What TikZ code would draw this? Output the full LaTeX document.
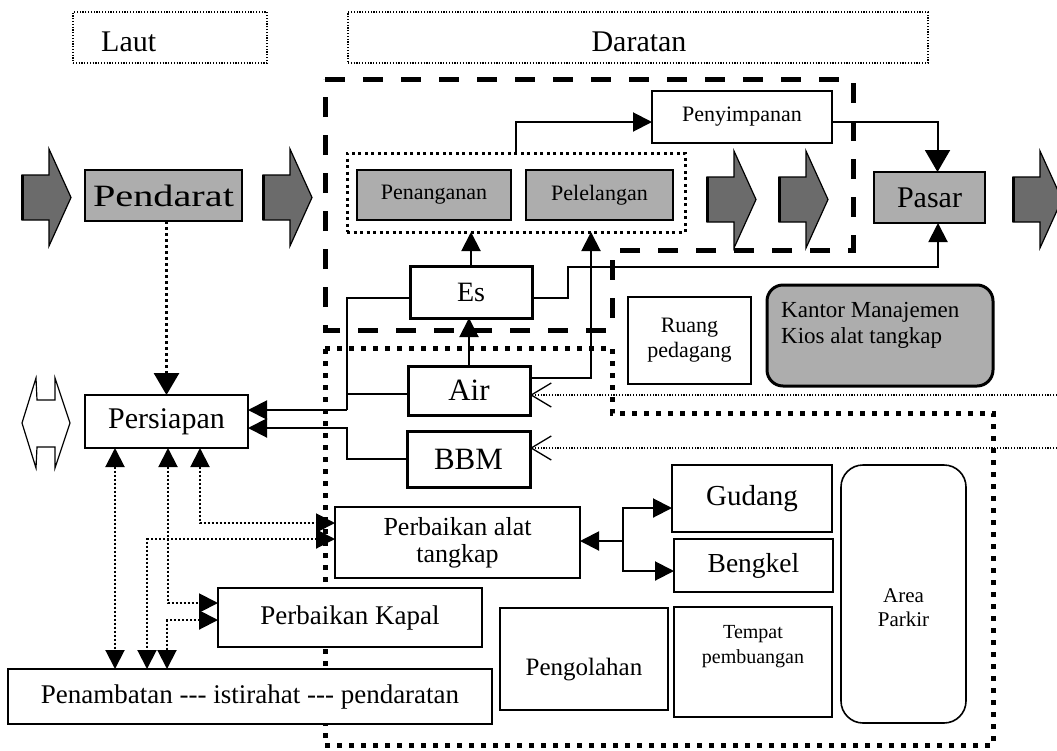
\documentclass[tikz,border=0pt]{standalone}
\usepackage{fontspec}
\setmainfont{Liberation Serif}
\usepackage{graphicx}
\usetikzlibrary{arrows.meta}
\newcommand\fsz[2]{\fontsize{#1}{#2}\selectfont}

\tikzset{
  bt/.tip={Triangle[length=19pt,width=19pt]},
  btl/.tip={Triangle[length=22pt,width=25pt]},
  ob/.tip={Straight Barb[length=20pt,width=24pt,line width=1.3pt]},
  barrow/.pic={
    \filldraw[fill=black!58,line width=1.2pt,line join=miter]
      (0,-22.5) -- (27,-22.5) -- (27,-48.5) -- (49,0) -- (27,48.5) -- (27,22.5) -- (0,22.5) -- cycle;
    \draw[line width=3pt] (0,-22.5) -- (0,22.5);
  }
}

\begin{document}
\begin{tikzpicture}[x=1pt,y=-1pt,
  box/.style={draw,line width=2pt,fill=white,inner sep=0pt,outer sep=0pt,align=center},
  gbox/.style={box,fill=black!32},
  thickbox/.style={box,line width=3pt},
  conn/.style={line width=2pt},
  dconn/.style={line width=2pt,dash pattern=on 2pt off 2pt},
  pconn/.style={line width=3pt,dash pattern=on 3pt off 3pt},
  feed/.style={line width=1.2pt,dash pattern=on 1.2pt off 1.6pt},
  dashreg/.style={line width=5pt,dash pattern=on 20pt off 18pt,line join=miter},
  dotreg/.style={line width=5pt,dash pattern=on 5pt off 7pt,line join=miter},
  grpbox/.style={draw,line width=3pt,dash pattern=on 3pt off 3.5pt,inner sep=0pt,outer sep=0pt},
  hdrbox/.style={draw,line width=1.2pt,dash pattern=on 1.2pt off 1.6pt,inner sep=0pt},
  txt/.style={inner sep=0pt}
]
\fill[white] (0,0) rectangle (1057,750);
\useasboundingbox (0,0) rectangle (1057,750);

% header boxes
\node[hdrbox,minimum width=194pt,minimum height=51pt] (laut) at (170,37.5) {};
\node[txt,anchor=base west,font=\fsz{30}{32}] (lauttxt) at (101,51) {Laut};
\node[hdrbox,minimum width=580pt,minimum height=51pt] (darat) at (638,37.5) {};
\node[txt,anchor=base,font=\fsz{30}{32}] (dartxt) at (639,51) {Daratan};

% zones
\draw[dashreg] (325,79) -- (853,79) -- (853,250) -- (612,250) -- (612,330) -- (325,330) -- cycle;
\draw[dotreg] (325,348) -- (612,348) -- (612,413) -- (993,413) -- (993,745) -- (325,745) -- cycle;

% flow arrows
\pic at (22,197.5) {barrow};
\pic at (263,197.5) {barrow};
\pic at (707,199.5) {barrow};
\pic at (779,199.5) {barrow};
\begin{scope}
  \clip (0,0) rectangle (1057,750);
  \pic at (1013,199.5) {barrow};
\end{scope}

% boat symbol
\draw[line width=1.2pt,line join=miter] (22,423) -- (36,378) -- (37,400) -- (55,400) -- (55,378) -- (70,423)
  -- (55,468) -- (55,447) -- (37,447) -- (36,468) -- cycle;

% boxes
\node[gbox,minimum width=157pt,minimum height=51pt,font=\fsz{31}{33}] (pendarat) at (163.5,195.5) {\scalebox{1.3}[1]{Pendarat}};
\node[grpbox,minimum width=338pt,minimum height=79pt] (grp) at (516,192.5) {};
\node[gbox,minimum width=154pt,minimum height=50pt,font=\fsz{22}{24}] (penang) at (434,195) {Penanganan};
\node[gbox,minimum width=147pt,minimum height=50pt,font=\fsz{22}{24}] (pel) at (599.5,195) {Pelelangan};
\node[box,minimum width=180pt,minimum height=52pt,font=\fsz{22}{24}] (peny) at (742,117) {Penyimpanan};
\node[gbox,minimum width=111pt,minimum height=51pt,font=\fsz{30}{32}] (pasar) at (929.5,197.5) {Pasar};
\node[thickbox,minimum width=122pt,minimum height=52pt,font=\fsz{28}{30}] (es) at (471,292) {Es};
\node[thickbox,minimum width=122pt,minimum height=49pt,font=\fsz{31}{33}] (air) at (469,390.5) {Air};
\node[thickbox,minimum width=123pt,minimum height=56pt,font=\fsz{31}{33}] (bbm) at (468.5,459) {BBM};
\node[box,line width=1.6pt,minimum width=163pt,minimum height=53pt,font=\fsz{30}{32}] (persiapan) at (166.5,421.5) {Persiapan};
\node[box,line width=1.6pt,minimum width=123pt,minimum height=87pt,font=\fsz{22}{25}] (ruang) at (689.5,340.5) {Ruang\\pedagang};
\node[gbox,rounded corners=16pt,line width=3pt,minimum width=226pt,minimum height=101pt] (kantor) at (880,335.5) {};
\node[txt,anchor=west,align=left,font=\fsz{23}{26}] (kantortxt) at (781,325) {Kantor Manajemen\\Kios alat tangkap};
\node[box,minimum width=245pt,minimum height=71pt,font=\fsz{26}{27}] (alat) at (457.5,542.5) {Perbaikan alat\\tangkap};
\node[box,minimum width=160pt,minimum height=67pt,font=\fsz{29}{31}] (gudang) at (752,498.5) {Gudang};
\node[box,minimum width=159pt,minimum height=53pt,font=\fsz{27.5}{30}] (bengkel) at (753.5,565.5) {Bengkel};
\node[box,minimum width=264pt,minimum height=59pt,font=\fsz{27}{29}] (kapal) at (350,617.5) {Perbaikan Kapal};
\node[box,line width=1.6pt,minimum width=484pt,minimum height=55pt,font=\fsz{27}{29}] (penambatan) at (250,696.5) {Penambatan -{}-{}- istirahat -{}-{}- pendaratan};
\node[box,minimum width=168pt,minimum height=102pt] (olah) at (584,659) {};
\node[txt,font=\fsz{25}{27}] (olahtxt) at (584,670) {Pengolahan};
\node[box,minimum width=158pt,minimum height=110pt] (buang) at (753,662) {};
\node[txt,align=center,font=\fsz{20}{25}] (buangtxt) at (753,647) {Tempat\\pembuangan};
\node[box,rounded corners=22pt,line width=1.6pt,minimum width=125pt,minimum height=258pt] (parkir) at (903.5,594) {};
\node[txt,align=center,font=\fsz{21}{24}] (parkirtxt) at (903.5,608) {Area\\Parkir};

% solid connectors
\draw[conn,-bt] (grp.north) |- ([yshift=-5pt]peny.west);
\draw[conn,-btl] ([yshift=-5pt]peny.east) -| ([xshift=8pt]pasar.north);
\draw[conn,-bt] (es.north) -- (es.north |- grp.south);
\draw[conn,-bt] (air.north) -- (air.north |- es.south);
\coordinate (espas) at (938,267);
\draw[conn,-bt] ([yshift=-6pt]es.east) -- ++(36,0) |- (espas) -- (espas |- pasar.south);
\coordinate (pelin) at (591,232);
\draw[conn,-bt] ([yshift=13pt]air.east) -| (pelin);
\coordinate (jn) at (347,410);
\draw[conn] ([yshift=-6pt]es.west) -| (jn);
\draw[conn] ([yshift=-3.5pt]air.west) -- ++(-61,0);
\draw[conn,-bt] (jn) -- (jn -| persiapan.east);
\coordinate (jn2) at (347,428);
\draw[conn,-bt] (bbm.west) -| (jn2) -- (jn2 -| persiapan.east);
\coordinate (gb) at (623,541);
\draw[conn,-bt] (gb) -- (gb -| alat.east);
\draw[conn,-bt] (gb) |- ([yshift=-9.5pt]gudang.west);
\draw[conn,-bt] (gb) |- ([yshift=-5.5pt]bengkel.west);

% dotted connectors
\draw[pconn,-btl] (persiapan.north |- pendarat.south) -- (persiapan.north);
\draw[dconn,bt-bt] (persiapan.south -| 115,0) -- (penambatan.north -| 115,0);
\draw[dconn,bt-bt] (persiapan.south -| 168,0) |- (kapal.west |- 0,603);
\draw[dconn,bt-bt] (persiapan.south -| 200,0) |- (alat.west |- 0,523);
\draw[dconn,bt-bt] (alat.west |- 0,539) -| (penambatan.north -| 147,0);
\draw[dconn,bt-bt] (kapal.west |- 0,620) -| (penambatan.north -| 167,0);

% supply lines entering from the right
\coordinate (edgeA) at (1057,395);
\coordinate (edgeB) at (1057,448);
\draw[feed,-ob] (edgeA) -- (edgeA -| air.east);
\draw[feed,-ob] (edgeB) -- (edgeB -| bbm.east);
\end{tikzpicture}
\end{document}
